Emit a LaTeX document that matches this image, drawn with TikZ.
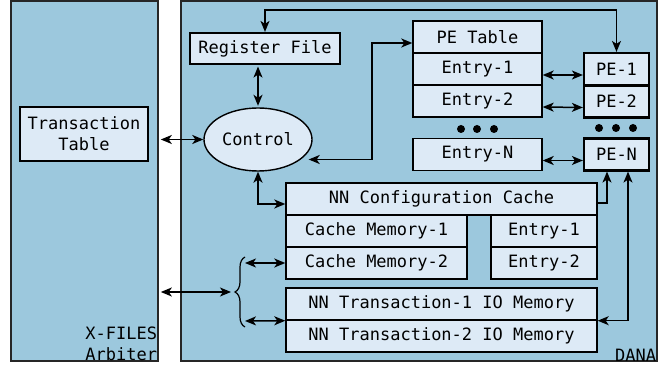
\documentclass[tikz,border=0pt]{standalone}
\usepackage{fontspec}
\setmonofont{DejaVu Sans Mono}
\usetikzlibrary{arrows.meta,decorations.pathreplacing,shapes.geometric}
\definecolor{dblue}{HTML}{9CC8DD}
\definecolor{lblue}{HTML}{DDEAF6}

\begin{document}
\begin{tikzpicture}[x=1pt,y=-1pt,>={Stealth[length=11pt,width=9pt,inset=3pt]},
	font=\ttfamily\fontsize{17}{21}\selectfont,
	outerbox/.style={draw=black!85, line width=1.6pt, fill=dblue, inner sep=0pt},
	blk/.style={draw, line width=1.4pt, fill=lblue, inner sep=0pt, minimum height=32pt},
	thickblk/.style={blk, line width=2.2pt},
	link/.style={<->, line width=1.5pt}]

	\useasboundingbox (0,0) rectangle (665,366);
	%% ========================================================
	\begin{scope}
		\node[outerbox, minimum width=147pt, minimum height=360pt] (arb) at (84.5,181) {};
		\node[outerbox, minimum width=476pt, minimum height=360pt] (dana) at (419,181) {};
		\node[anchor=south east, align=right, inner sep=1.5pt] (arblbl) at ([yshift=-1pt]arb.south east) {X-FILES\\Arbiter};
		\node[anchor=south east, inner sep=1.5pt] (danalbl) at ([yshift=-1pt]dana.south east) {DANA};
	\end{scope}
	%% ========================================================
	\begin{scope}
		\node[blk, align=center, minimum width=128pt, minimum height=54pt] (ttable) at (84,134) {Transaction\\Table};
		\node[thickblk, minimum width=150pt, minimum height=31pt] (regfile) at (265,48.5) {Register File};
		\node[ellipse, draw, line width=1.4pt, fill=lblue, inner sep=0pt, minimum width=108pt, minimum height=63pt] (ctrl) at (258,139.5) {Control};

		\node[blk, minimum width=129pt] (petable) at (477.5,37) {PE Table};
		\node[blk, minimum width=129pt] (entry1) at (477.5,69) {Entry-1};
		\node[blk, minimum width=129pt] (entry2) at (477.5,101) {Entry-2};
		\node[blk, minimum width=129pt] (entryN) at (477.5,154.5) {Entry-N};

		\node[thickblk, minimum width=65pt] (pe1) at (616.5,69) {PE-1};
		\node[thickblk, minimum width=65pt] (pe2) at (616.5,101.5) {PE-2};
		\node[thickblk, minimum width=65pt] (peN) at (616.5,154.5) {PE-N};

		\foreach \x in {461,477,494} \fill (\x,129) circle (4pt);
		\foreach \x in {599,616,633} \fill (\x,128) circle (4pt);

		\node[blk, minimum width=311pt] (nncfg) at (441.5,199) {NN Configuration Cache};
		\node[blk, minimum width=181pt] (cmem1) at (376.5,231) {Cache Memory-1};
		\node[blk, minimum width=181pt] (cmem2) at (376.5,263) {Cache Memory-2};
		\node[blk, minimum width=106pt] (cent1) at (544,231) {Entry-1};
		\node[blk, minimum width=106pt] (cent2) at (544,263) {Entry-2};
		\node[blk, minimum width=311pt] (io1) at (441.5,304) {NN Transaction-1 IO Memory};
		\node[blk, minimum width=311pt] (io2) at (441.5,336) {NN Transaction-2 IO Memory};
	\end{scope}
	%% ========================================================
	\begin{scope}
		\coordinate (loop) at (0,10);
		\coordinate (bend) at (372,0);
		\coordinate (ctrlout) at ([shift={(-4pt,-20pt)}]ctrl.east);
		\coordinate (brtip) at (233,292);
		\coordinate (brtop) at (245,263);
		\coordinate (brbot) at (245,321);

		\draw[link, shorten <=2pt] (arb.east |- ctrl.west) -- (ctrl.west);
		\draw[link, shorten <=1.5pt, shorten >=1.5pt] (ctrl.north) -- (ctrl.north |- regfile.south);
		\draw[link] (regfile.north) -- (regfile.north |- loop) -| (pe1.north);
		\draw[link] (ctrlout) -- (ctrlout -| bend) |- ([yshift=-6pt]petable.west);

		\foreach \a/\b in {entry1/pe1,entry2/pe2,entryN/peN}
			\draw[link] ([yshift=-6pt]\a.east) -- ([yshift=-6pt]\b.west);

		\draw[link] (ctrl.south) |- ([yshift=-5pt]nncfg.west);
		\draw[->, line width=1.5pt] ([yshift=-4pt]nncfg.east) -| ([xshift=-9.5pt]peN.south);
		\draw[link] ([xshift=11.5pt]peN.south) |- (io1.south east);

		\draw[line width=1.2pt, decorate, decoration={brace, amplitude=10pt}] (245,327) -- (245,257);
		\draw[link, shorten <=2pt, shorten >=2pt] (arb.east |- brtip) -- (brtip);
		\draw[link] (brtop) -- (cmem2.west);
		\draw[link] (brbot) -- (io1.south west);
	\end{scope}
	%% ========================================================
\end{tikzpicture}
\end{document}
